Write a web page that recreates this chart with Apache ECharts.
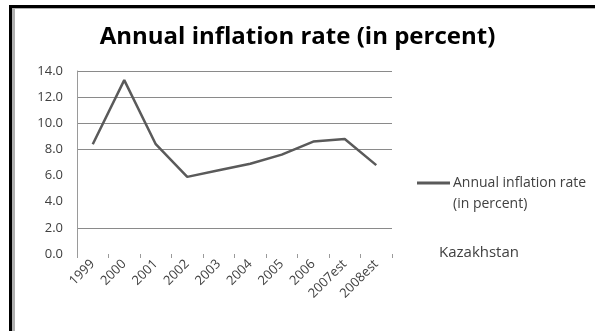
<!DOCTYPE html>
<html>
<head>
<meta charset="utf-8">
<script src="https://cdn.jsdelivr.net/npm/echarts@6/dist/echarts.min.js"></script>
<style>
  html, body { margin: 0; padding: 0; background: #fff; }
  #chart { width: 595px; height: 331px; }
</style>
</head>
<body>
<div id="chart"></div>
<script>
// Kazakhstan, annual inflation rate by year
const years = ['1999', '2000', '2001', '2002', '2003', '2004', '2005', '2006', '2007est', '2008est'];
const inflation = [8.4, 13.3, 8.4, 5.9, 6.4, 6.9, 7.6, 8.6, 8.8, 6.8];
const yTicks = [0, 2, 4, 6, 8, 10, 12, 14];
const seriesName = 'Annual inflation rate (in percent)';

const chart = echarts.init(document.getElementById('chart'), null, { renderer: 'canvas' });
const font = '"Open Sans", sans-serif';
const textGray = '#404040';

// gridlines drawn per tick (0 through 14)
const gridColors = yTicks.map(v => (v === 0 || v === 4 || v === 6) ? 'rgba(0,0,0,0)' : '#8a8a8a');

chart.setOption({
  animation: false,
  backgroundColor: '#fff',
  title: [
    {
      text: 'Annual inflation rate (in percent)',
      left: 'center',
      top: 20,
      textStyle: { fontFamily: font, fontWeight: 'bold', fontSize: 24, color: '#000' }
    },
    {
      text: 'Kazakhstan',
      left: 434,
      top: 240,
      textStyle: { fontFamily: font, fontWeight: 'normal', fontSize: 15, color: textGray }
    }
  ],
  legend: {
    left: 417,
    top: 176,
    padding: 0,
    orient: 'vertical',
    itemWidth: 33,
    itemHeight: 3,
    itemGap: 0,
    icon: 'rect',
    formatter: () => 'Annual inflation rate',
    textStyle: { fontFamily: font, fontSize: 14, color: textGray, padding: [0, 0, 0, -2] },
    data: [{ name: seriesName, itemStyle: { color: '#5a5a5a' } }]
  },
  grid: { left: 77, right: 203, top: 71, bottom: 77, containLabel: false },
  xAxis: {
    type: 'category',
    data: years,
    boundaryGap: true,
    axisLine: { show: false },
    axisTick: { show: true, alignWithLabel: false, length: 4, lineStyle: { color: '#9a9a9a' } },
    axisLabel: {
      rotate: 45, fontFamily: font, fontSize: 13, color: textGray, margin: 8, interval: 0
    }
  },
  yAxis: {
    type: 'value',
    min: 0,
    max: 14,
    interval: 2,
    axisLine: { show: true, lineStyle: { color: '#9a9a9a', width: 1 } },
    axisTick: { show: false },
    axisLabel: {
      fontFamily: font, fontSize: 13, color: textGray, margin: 14,
      formatter: v => v.toFixed(1)
    },
    splitLine: { show: true, showMinLine: true, lineStyle: { color: gridColors, width: 1 } }
  },
  series: [{
    name: seriesName,
    type: 'line',
    data: inflation,
    symbol: 'none',
    lineStyle: { color: '#5a5a5a', width: 2.5 },
    itemStyle: { color: '#5a5a5a' }
  }],
  graphic: [
    // second line of the legend entry
    {
      type: 'text', left: 453, top: 197,
      style: { text: '(in percent)', font: '14px ' + font, fill: textGray }
    },
    // frame edges on the top and left
    { type: 'rect', shape: { x: 9, y: 5, width: 586, height: 3 }, style: { fill: '#000' }, z: 100 },
    { type: 'rect', shape: { x: 9, y: 5, width: 3, height: 326 }, style: { fill: '#000' }, z: 100 },
    { type: 'rect', shape: { x: 12, y: 8, width: 583, height: 1 }, style: { fill: '#b0b0b0' }, z: 100 },
    { type: 'rect', shape: { x: 12, y: 8, width: 3, height: 323 }, style: { fill: '#b0b0b0' }, z: 100 }
  ]
});
</script>
</body>
</html>
